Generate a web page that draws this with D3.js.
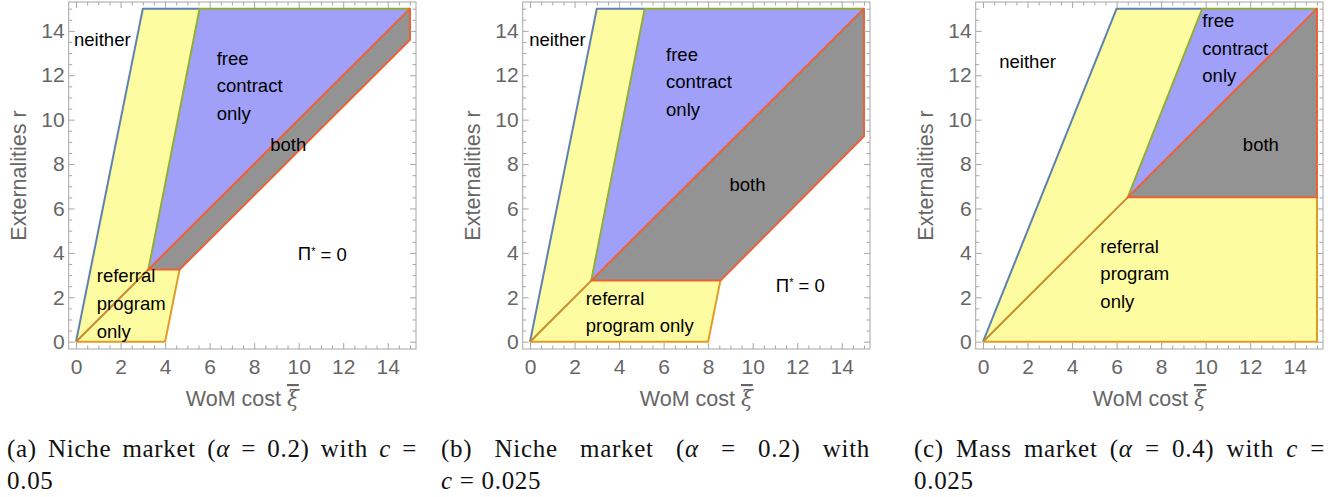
<!DOCTYPE html>
<html>
<head>
<meta charset="utf-8">
<script src="https://cdn.jsdelivr.net/npm/d3@7"></script>
<style>
  body { margin: 0; background: #fff; }
  svg { display: block; }
</style>
</head>
<body>
<script>
// region vertices (WoM cost, externalities)
const yellowA = [[0,0],[3,15],[5.55,15],[3.25,3.25],[4.65,3.25],[4,0]];
const freeA   = [[3.25,3.25],[5.55,15],[15,15]];
const bothA   = [[3.25,3.25],[15,15],[15,13.6],[4.65,3.25]];

const yellowB = [[0,0],[3,15],[5.15,15],[2.75,2.75],[8.55,2.75],[8,0]];
const freeB   = [[2.75,2.75],[5.15,15],[15,15]];
const bothB   = [[2.75,2.75],[15,15],[15,9.25],[8.55,2.75]];

const yellowC = [[0,0],[6,15],[9.85,15],[6.5,6.5],[15,6.5],[15,0]];
const freeC   = [[6.5,6.5],[9.85,15],[15,15]];
const bothC   = [[6.5,6.5],[15,15],[15,6.5]];

// boundary curves
const neitherEdgeA  = [[0,0],[3,15],[5.55,15]];
const freeEdgeA     = [[3.25,3.25],[5.55,15],[15,15]];
const referralEdgeA = [[0,0],[4,0],[4.65,3.25]];
const diagEdgeA     = [[0,0],[3.25,3.25]];

const neitherEdgeB  = [[0,0],[3,15],[5.15,15]];
const freeEdgeB     = [[2.75,2.75],[5.15,15],[15,15]];
const referralEdgeB = [[0,0],[8,0],[8.55,2.75]];
const diagEdgeB     = [[0,0],[2.75,2.75]];

const neitherEdgeC  = [[0,0],[6,15],[9.85,15]];
const freeEdgeC     = [[6.5,6.5],[9.85,15],[15,15]];
const referralEdgeC = [[0,0],[15,0],[15,6.5]];
const diagEdgeC     = [[0,0],[6.5,6.5]];

// region labels [text, x, y] in data units
const labelsA = [["neither",-0.09,13.59],["free",6.32,12.77],["contract",6.32,11.52],["only",6.32,10.29],
  ["both",8.72,8.86],["Π*",9.96,3.95],["referral",0.93,2.96],["program",0.93,1.73],["only",0.93,0.45]];
const labelsB = [["neither",-0.04,13.59],["free",6.11,12.95],["contract",6.11,11.71],["only",6.11,10.47],
  ["both",8.96,7.06],["Π*",11.04,2.55],["referral",2.5,1.95],["program only",2.5,0.71]];
const labelsC = [["neither",0.73,12.6],["free",9.85,14.46],["contract",9.85,13.22],["only",9.85,11.98],
  ["both",11.67,8.9],["referral",5.27,4.28],["program",5.27,3.05],["only",5.27,1.8]];

const xTickValues = [0,2,4,6,8,10,12,14];
const yTickValues = [0,2,4,6,8,10,12,14];
const minorTickValues = d3.range(1, 15.01, 0.5).concat([0.5]).filter(function(v) { return v % 2 !== 0; });

const captions = [
  ["(a) Niche market (", "α", " = 0.2) with ", "c", " ="],
  ["(b) Niche market (", "α", " = 0.2) with"],
  ["(c) Mass market (", "α", " = 0.4) with ", "c", " ="]
];
const captions2 = [["0.05"], ["", "c", " = 0.025"], ["0.025"]];

const width = 1342, height = 497;
const frameW = 347.3, frameTop = 2, frameBottom = 349;
const frameLefts = [68.7, 522.7, 975.7];
const captionX = [7, 441, 914];
const captionW = [410, 429, 411];

const panels = [
  {yellow: yellowA, free: freeA, both: bothA, blue: neitherEdgeA, green: freeEdgeA, orange: referralEdgeA, diag: diagEdgeA, labels: labelsA},
  {yellow: yellowB, free: freeB, both: bothB, blue: neitherEdgeB, green: freeEdgeB, orange: referralEdgeB, diag: diagEdgeB, labels: labelsB},
  {yellow: yellowC, free: freeC, both: bothC, blue: neitherEdgeC, green: freeEdgeC, orange: referralEdgeC, diag: diagEdgeC, labels: labelsC}
];

const svg = d3.select("body").append("svg")
  .attr("width", width)
  .attr("height", height);

const sans = "'Liberation Sans', Arial, sans-serif";
const serif = "'Liberation Serif', 'Times New Roman', serif";
const frameGray = "#a6a6a6";
const labelGray = "#666666";

panels.forEach(function(p, i) {
  const left = frameLefts[i];
  const x = d3.scaleLinear().domain([-0.33, 15.27]).range([left, left + frameW]);
  const y = d3.scaleLinear().domain([-0.33, 15.3]).range([frameBottom, frameTop]);
  const line = d3.line().x(function(d) { return x(d[0]); }).y(function(d) { return y(d[1]); });
  const g = svg.append("g");

  g.append("path").attr("d", line(p.yellow) + "Z").attr("fill", "#fefca0");
  g.append("path").attr("d", line(p.free) + "Z").attr("fill", "#a0a0f9");
  g.append("path").attr("d", line(p.both) + "Z").attr("fill", "#939393");

  const edges = [
    [p.blue, "#5e81b5"],
    [p.orange, "#e19c24"],
    [p.diag, "#c98a2c"],
    [p.green, "#8fb032"]
  ];
  edges.forEach(function(e) {
    g.append("path").attr("d", line(e[0])).attr("fill", "none")
      .attr("stroke", e[1]).attr("stroke-width", 2).attr("stroke-linejoin", "round");
  });
  g.append("path").attr("d", line(p.both) + "Z").attr("fill", "none")
    .attr("stroke", "#eb6235").attr("stroke-width", 2).attr("stroke-linejoin", "round");

  // frame + ticks
  g.append("rect").attr("x", left).attr("y", frameTop)
    .attr("width", frameW).attr("height", frameBottom - frameTop)
    .attr("fill", "none").attr("stroke", frameGray).attr("stroke-width", 1);

  const axes = [
    [d3.axisBottom(x).tickValues(xTickValues), "translate(0," + frameBottom + ")", true, 10],
    [d3.axisTop(x).tickValues(xTickValues), "translate(0," + frameTop + ")", false, 0],
    [d3.axisLeft(y).tickValues(yTickValues), "translate(" + left + ",0)", true, 4],
    [d3.axisRight(y).tickValues(yTickValues), "translate(" + (left + frameW) + ",0)", false, 0]
  ];
  axes.forEach(function(a) {
    const major = a[0].tickSize(-6).tickSizeOuter(0).tickPadding(a[3]);
    if (!a[2]) major.tickFormat("");
    const ag = g.append("g").attr("transform", a[1]).call(major);
    ag.select(".domain").remove();
    ag.selectAll("line").attr("stroke", frameGray);
    ag.selectAll("text").attr("fill", labelGray).attr("font-family", sans).attr("font-size", 21);

    const mg = g.append("g").attr("transform", a[1])
      .call(a[0].tickValues(minorTickValues).tickSize(-3.5).tickFormat(""));
    mg.select(".domain").remove();
    mg.selectAll("line").attr("stroke", frameGray);
  });

  // axis titles
  g.append("text")
    .attr("transform", "translate(" + (left - 50) + "," + ((frameTop + frameBottom) / 2) + ") rotate(-90)")
    .attr("text-anchor", "middle").attr("dy", "0.35em")
    .attr("font-family", sans).attr("font-size", 21.5).attr("fill", labelGray)
    .text("Externalities r");
  const xt = g.append("text")
    .attr("x", left + frameW / 2).attr("y", 406)
    .attr("text-anchor", "middle")
    .attr("font-family", sans).attr("font-size", 21.5).attr("fill", labelGray);
  xt.append("tspan").text("WoM cost ");
  xt.append("tspan").attr("font-family", "'DejaVu Serif', serif").attr("font-style", "italic")
    .attr("text-decoration", "overline").text("ξ");

  // region labels
  p.labels.forEach(function(l) {
    const t = g.append("text").attr("x", x(l[1])).attr("y", y(l[2])).attr("dy", "0.35em")
      .attr("font-family", sans).attr("font-size", 18.5).attr("fill", "#000");
    if (l[0] === "Π*") {
      t.append("tspan").text("Π");
      t.append("tspan").attr("font-size", 11).attr("dy", "-0.5em").text("*");
      t.append("tspan").attr("dy", "0.32em").text(" = 0");
    } else {
      t.text(l[0]);
    }
  });

  // captions, first line justified by stretching word spaces
  [[captions[i], 457, true], [captions2[i], 489, false]].forEach(function(c) {
    const t = svg.append("text").attr("x", captionX[i]).attr("y", c[1])
      .attr("font-family", serif).attr("font-size", 25).attr("fill", "#111")
      .attr("letter-spacing", 0.7);
    c[0].forEach(function(s, k) {
      const ts = t.append("tspan").text(s);
      if (k % 2 === 1) ts.attr("font-style", "italic");
    });
    if (c[2]) {
      const natural = t.node().getComputedTextLength();
      const spaces = c[0].join("").split(" ").length - 1;
      t.attr("word-spacing", Math.max(0, (captionW[i] - natural) / spaces));
    }
  });
});
</script>
</body>
</html>
